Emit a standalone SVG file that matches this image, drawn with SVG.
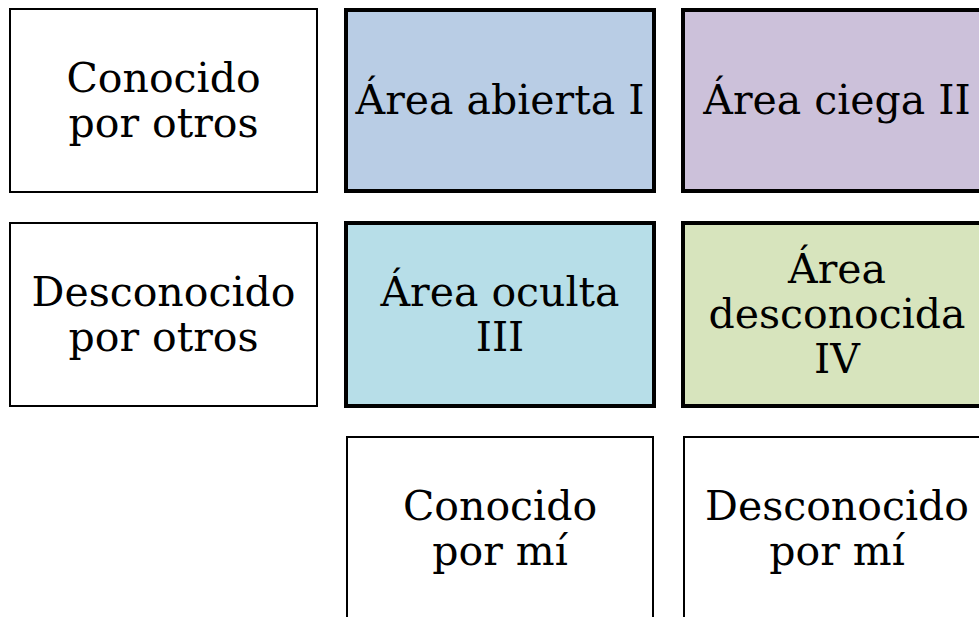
<svg xmlns="http://www.w3.org/2000/svg" width="979" height="617" viewBox="0 0 979 617">
<style>
.thin{fill:#ffffff;stroke:#000;stroke-width:2}
.thick{stroke:#000;stroke-width:4}
text{font-family:"DejaVu Serif",serif;font-size:41px;fill:#000;text-anchor:middle}
</style>
<rect width="979" height="617" fill="#ffffff"/>
<g id="conocido-otros">
<rect class="thin" x="10" y="9" width="307" height="183"/>
<text x="163.5" y="92">Conocido</text>
<text x="163.5" y="137">por otros</text>
</g>
<g id="desconocido-otros">
<rect class="thin" x="10" y="223" width="307" height="183"/>
<text x="163.5" y="306">Desconocido</text>
<text x="163.5" y="351">por otros</text>
</g>
<g id="area-abierta">
<rect class="thick" fill="#b9cde5" x="346" y="10" width="308" height="181"/>
<text x="500" y="114">Área abierta I</text>
</g>
<g id="area-ciega">
<rect class="thick" fill="#ccc1da" x="683" y="10" width="308" height="181"/>
<text x="837" y="114">Área ciega II</text>
</g>
<g id="area-oculta">
<rect class="thick" fill="#b7dee8" x="346" y="223" width="308" height="183"/>
<text x="500" y="306">Área oculta</text>
<text x="500" y="351">III</text>
</g>
<g id="area-desconocida">
<rect class="thick" fill="#d7e4bd" x="683" y="223" width="308" height="183"/>
<text x="837" y="283">Área</text>
<text x="837" y="328">desconocida</text>
<text x="837" y="373">IV</text>
</g>
<g id="conocido-mi">
<rect class="thin" x="347" y="437" width="306" height="184"/>
<text x="500" y="520">Conocido</text>
<text x="500" y="565">por mí</text>
</g>
<g id="desconocido-mi">
<rect class="thin" x="684" y="437" width="306" height="184"/>
<text x="837" y="520">Desconocido</text>
<text x="837" y="565">por mí</text>
</g>
<g id="connectors"></g>
</svg>
